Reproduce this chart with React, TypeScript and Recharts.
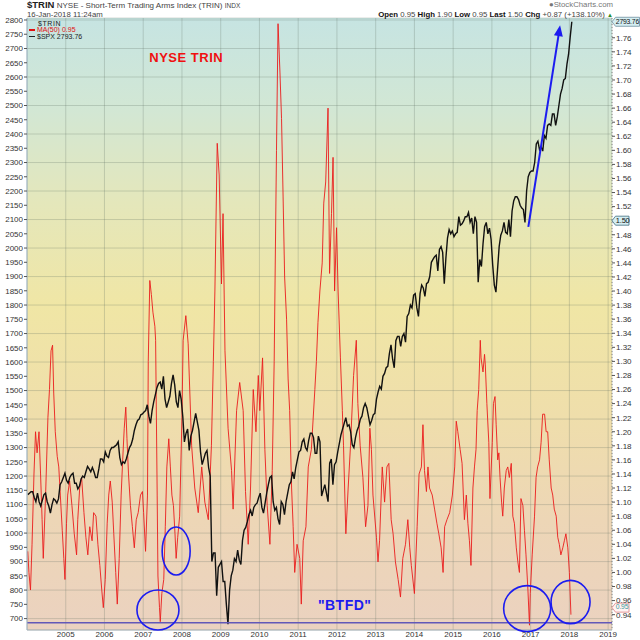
import React from "react";
import {
  LineChart,
  Line,
  XAxis,
  YAxis,
  CartesianGrid,
  ReferenceLine,
  ReferenceDot,
  Legend,
} from "recharts";

const FONT = "'Liberation Sans', Arial, Helvetica, sans-serif";

const firstYear = 2004;
// $SPX, one reading per half month, Jan 2004 .. mid Jan 2018
const spxHalfMonths = [
  1135, 1140, 1145, 1145, 1125, 1110, 1140, 1110, 1095, 1115, 1135, 1140, 1110, 1095, 1070, 1100, 1120, 1115, 1105, 1120, 1170, 1180, 1195, 1210,
  1185, 1175, 1195, 1205, 1210, 1175, 1175, 1155, 1165, 1190, 1200, 1195, 1215, 1234, 1225, 1215, 1230, 1215, 1195, 1195, 1225, 1260, 1260, 1250,
  1285, 1270, 1265, 1290, 1300, 1300, 1305, 1310, 1320, 1265, 1240, 1250, 1245, 1260, 1280, 1300, 1310, 1330, 1360, 1380, 1395, 1400, 1415, 1418,
  1425, 1430, 1450, 1410, 1385, 1430, 1460, 1485, 1510, 1525, 1530, 1505, 1550, 1470, 1440, 1460, 1480, 1525, 1555, 1520, 1460, 1440, 1500, 1470,
  1410, 1320, 1350, 1365, 1290, 1340, 1360, 1390, 1420, 1390, 1360, 1285, 1240, 1260, 1280, 1290, 1230, 1200, 900, 930, 930, 780, 880, 890,
  900, 830, 830, 750, 680, 800, 850, 870, 910, 900, 940, 905, 890, 975, 1010, 1020, 1040, 1065, 1080, 1060, 1090, 1100, 1105, 1125,
  1140, 1090, 1070, 1105, 1140, 1170, 1195, 1200, 1110, 1080, 1090, 1050, 1030, 1110, 1100, 1065, 1110, 1140, 1170, 1180, 1215, 1190, 1230, 1258,
  1285, 1290, 1320, 1330, 1300, 1290, 1325, 1350, 1350, 1335, 1280, 1280, 1340, 1320, 1130, 1150, 1170, 1140, 1110, 1245, 1260, 1170, 1240, 1250,
  1285, 1315, 1345, 1365, 1385, 1405, 1375, 1380, 1355, 1310, 1300, 1335, 1360, 1375, 1400, 1410, 1440, 1455, 1440, 1410, 1380, 1395, 1415, 1420,
  1470, 1495, 1515, 1505, 1550, 1560, 1580, 1585, 1630, 1660, 1610, 1580, 1675, 1690, 1690, 1655, 1690, 1700, 1670, 1760, 1770, 1800, 1790, 1835,
  1840, 1790, 1760, 1840, 1870, 1860, 1830, 1875, 1880, 1900, 1950, 1960, 1970, 1975, 1920, 1995, 2005, 1985, 1875, 1965, 2035, 2065, 2050, 2060,
  2040, 2050, 2055, 2110, 2080, 2085, 2095, 2110, 2110, 2125, 2090, 2105, 2050, 2110, 2090, 1880, 1960, 1935, 2015, 2075, 2090, 2050, 2070, 2030,
  1940, 1870, 1845, 1925, 2005, 2045, 2060, 2090, 2055, 2050, 2100, 2040, 2130, 2165, 2180, 2180, 2170, 2150, 2140, 2135, 2090, 2200, 2250, 2265,
  2270, 2270, 2300, 2365, 2375, 2345, 2355, 2340, 2395, 2385, 2430, 2435, 2430, 2470, 2470, 2430, 2460, 2500, 2540, 2560, 2590, 2595, 2645, 2680,
  2740, 2794,
];
const spxLast = 2793.76;

// $TRIN 50-day moving average: [date as decimal year, value]
const trinMa50: [number, number][] = [
  [2004.02, 1.03], [2004.05, 1.0], [2004.09, 0.975], [2004.13, 1.04], [2004.18, 1.14], [2004.22, 1.2],
  [2004.26, 1.17], [2004.31, 1.2], [2004.35, 1.14], [2004.39, 1.075], [2004.42, 1.02], [2004.48, 1.11],
  [2004.54, 1.22], [2004.58, 1.26], [2004.62, 1.315], [2004.66, 1.323], [2004.69, 1.255], [2004.73, 1.2],
  [2004.78, 1.165], [2004.82, 1.15], [2004.86, 1.11], [2004.91, 1.06], [2004.95, 1.02], [2004.98, 0.99],
  [2005.02, 1.07], [2005.05, 1.11], [2005.1, 1.13], [2005.16, 1.095], [2005.22, 1.055], [2005.28, 1.025],
  [2005.31, 1.075], [2005.36, 1.12], [2005.41, 1.135], [2005.47, 1.085], [2005.52, 1.05], [2005.57, 1.025],
  [2005.62, 1.065], [2005.68, 1.045], [2005.72, 1.085], [2005.78, 1.08], [2005.83, 1.04], [2005.88, 1.01],
  [2005.93, 0.975], [2005.97, 0.95], [2006.02, 0.99], [2006.07, 1.07], [2006.11, 1.11], [2006.15, 1.13],
  [2006.2, 1.1], [2006.24, 1.055], [2006.29, 1.0], [2006.33, 0.955], [2006.38, 1.02], [2006.43, 1.11],
  [2006.47, 1.16], [2006.51, 1.205], [2006.55, 1.235], [2006.58, 1.19], [2006.62, 1.14], [2006.67, 1.095],
  [2006.72, 1.065], [2006.77, 1.035], [2006.82, 1.075], [2006.87, 1.085], [2006.93, 1.11], [2006.98, 1.115],
  [2007.01, 1.085], [2007.06, 1.03], [2007.11, 1.11], [2007.13, 1.3], [2007.17, 1.415], [2007.21, 1.395],
  [2007.25, 1.37], [2007.3, 1.35], [2007.32, 1.33], [2007.36, 1.11], [2007.38, 0.995], [2007.42, 0.95],
  [2007.44, 0.93], [2007.48, 0.97], [2007.53, 0.99], [2007.57, 1.065], [2007.61, 1.15], [2007.66, 1.19],
  [2007.7, 1.15], [2007.74, 1.11], [2007.78, 1.095], [2007.82, 1.055], [2007.85, 1.02], [2007.89, 1.05],
  [2007.94, 1.08], [2008.0, 1.22], [2008.03, 1.33], [2008.1, 1.365], [2008.16, 1.325], [2008.25, 1.18],
  [2008.33, 1.12], [2008.42, 1.085], [2008.51, 1.15], [2008.59, 1.1], [2008.68, 1.075], [2008.76, 1.18],
  [2008.81, 1.3], [2008.85, 1.4], [2008.91, 1.61], [2008.96, 1.565], [2009.02, 1.41], [2009.06, 1.51],
  [2009.11, 1.315], [2009.19, 1.205], [2009.28, 1.145], [2009.32, 1.09], [2009.41, 1.23], [2009.49, 1.27],
  [2009.58, 1.23], [2009.64, 1.115], [2009.71, 1.04], [2009.77, 1.12], [2009.84, 1.26], [2009.91, 1.2],
  [2009.97, 1.28], [2010.01, 1.23], [2010.08, 1.305], [2010.14, 1.175], [2010.2, 1.095], [2010.27, 1.04],
  [2010.33, 1.145], [2010.38, 1.3], [2010.44, 1.6], [2010.48, 1.78], [2010.53, 1.71], [2010.57, 1.645],
  [2010.61, 1.535], [2010.65, 1.42], [2010.7, 1.36], [2010.74, 1.275], [2010.78, 1.23], [2010.83, 1.12],
  [2010.87, 1.065], [2010.91, 1.0], [2010.97, 1.04], [2011.04, 1.02], [2011.08, 0.955], [2011.13, 1.045],
  [2011.2, 1.065], [2011.26, 1.15], [2011.34, 1.175], [2011.43, 1.26], [2011.47, 1.3], [2011.51, 1.355],
  [2011.56, 1.4], [2011.62, 1.44], [2011.66, 1.525], [2011.71, 1.555], [2011.77, 1.66], [2011.81, 1.425],
  [2011.86, 1.51], [2011.9, 1.59], [2011.94, 1.4], [2011.99, 1.49], [2012.03, 1.4], [2012.09, 1.305],
  [2012.14, 1.23], [2012.17, 1.18], [2012.23, 1.055], [2012.29, 1.12], [2012.35, 1.18], [2012.43, 1.28],
  [2012.5, 1.33], [2012.54, 1.24], [2012.6, 1.18], [2012.67, 1.135], [2012.74, 1.065], [2012.8, 1.095],
  [2012.85, 1.205], [2012.89, 1.175], [2012.93, 1.11], [2013.02, 1.05], [2013.06, 1.015], [2013.1, 1.045],
  [2013.17, 1.15], [2013.23, 1.1], [2013.29, 1.15], [2013.34, 1.155], [2013.4, 1.075], [2013.45, 1.055],
  [2013.51, 1.015], [2013.58, 0.99], [2013.64, 0.965], [2013.7, 1.02], [2013.77, 1.04], [2013.83, 1.075],
  [2013.88, 1.035], [2013.92, 1.01], [2014.0, 0.97], [2014.07, 1.065], [2014.12, 1.14], [2014.18, 1.15],
  [2014.22, 1.21], [2014.26, 1.145], [2014.31, 1.115], [2014.35, 1.15], [2014.39, 1.12], [2014.46, 1.11],
  [2014.52, 1.09], [2014.58, 1.07], [2014.63, 1.055], [2014.69, 1.035], [2014.74, 1.0], [2014.78, 1.065],
  [2014.84, 1.075], [2014.91, 1.085], [2014.98, 1.11], [2015.04, 1.15], [2015.08, 1.215], [2015.12, 1.2],
  [2015.18, 1.175], [2015.23, 1.155], [2015.29, 1.075], [2015.34, 1.11], [2015.38, 1.07], [2015.42, 1.045],
  [2015.46, 1.01], [2015.51, 1.12], [2015.55, 1.15], [2015.59, 1.175], [2015.62, 1.23], [2015.66, 1.26],
  [2015.7, 1.33], [2015.72, 1.305], [2015.77, 1.285], [2015.81, 1.31], [2015.83, 1.295], [2015.87, 1.24],
  [2015.92, 1.185], [2015.95, 1.105], [2016.01, 1.185], [2016.04, 1.24], [2016.08, 1.25], [2016.11, 1.21],
  [2016.15, 1.16], [2016.18, 1.17], [2016.21, 1.135], [2016.25, 1.1], [2016.28, 1.08], [2016.32, 1.12],
  [2016.37, 1.145], [2016.41, 1.15], [2016.45, 1.135], [2016.5, 1.155], [2016.54, 1.08], [2016.58, 1.07],
  [2016.63, 1.035], [2016.67, 1.015], [2016.71, 1.0], [2016.75, 1.105], [2016.8, 1.095], [2016.84, 1.06],
  [2016.88, 1.025], [2016.93, 0.975], [2016.97, 0.925], [2016.99, 0.97], [2017.04, 1.025], [2017.1, 1.08],
  [2017.14, 1.135], [2017.18, 1.15], [2017.23, 1.16], [2017.27, 1.185], [2017.31, 1.225], [2017.36, 1.225],
  [2017.4, 1.2], [2017.44, 1.2], [2017.48, 1.16], [2017.53, 1.12], [2017.57, 1.11], [2017.61, 1.09],
  [2017.66, 1.08], [2017.7, 1.05], [2017.74, 1.04], [2017.78, 1.025], [2017.83, 1.035], [2017.87, 1.045],
  [2017.91, 1.055], [2017.96, 1.035], [2018.0, 1.0], [2018.04, 0.94],
];
const maLast = 0.95;
const trinLast = 1.5;

const yearTicks = [2005, 2006, 2007, 2008, 2009, 2010, 2011, 2012, 2013, 2014, 2015, 2016, 2017, 2018, 2019];
const gridTicks = yearTicks.flatMap((y) => [y - 0.5, y]);
const spxTicks = Array.from({ length: 43 }, (_, i) => 700 + i * 50);
const trinTicks = Array.from({ length: 42 }, (_, i) => +(0.94 + i * 0.02).toFixed(2));

const spxData = spxHalfMonths.map((v, i) => ({ t: firstYear + (i + 0.5) / 24, v }));
const trinData = trinMa50.map(([t, v]) => ({ t, v }));

const BLUE = "#1c1cf0";

const ellipse = (rx: number, ry: number) => (p: any) => (
  <ellipse cx={p.cx} cy={p.cy} rx={rx} ry={ry} fill="none" stroke={BLUE} strokeWidth={1.6} />
);

const note = (text: string, color: string, size: number) => (p: any) => (
  <text x={p.cx} y={p.cy} textAnchor="middle" dominantBaseline="central" fontFamily={FONT}
    fontWeight="bold" fontSize={size} fill={color} letterSpacing={0.5}>
    {text}
  </text>
);

const arrowHead = (p: any) => (
  <polygon points="0,0 -4.5,11 4.5,11" fill={BLUE} transform={`translate(${p.cx},${p.cy}) rotate(9)`} />
);

const priceTag = (label: string, fill: string, stroke: string, color: string, w: number, size: number, lift = 0) => (p: any) => (
  <g>
    <polygon
      points={`${p.cx},${p.cy} ${p.cx + 3.5},${p.cy - 4.5} ${p.cx + w},${p.cy - 4.5} ${p.cx + w},${p.cy + 4.5} ${p.cx + 3.5},${p.cy + 4.5}`}
      fill={fill} stroke={stroke} strokeWidth={0.8}
    />
    <text x={p.cx + 3.8} y={p.cy + 2.4 - lift} fontSize={size} fontFamily={FONT} fill={color} letterSpacing={-0.2}>{label}</text>
  </g>
);

const legendDash = (color: string) => (
  <span style={{ display: "inline-block", width: 6, height: 1.5, background: color, verticalAlign: "middle", marginRight: 2 }} />
);

export default function App() {
  const tick = { fontSize: 8, fill: "#333", fontFamily: FONT };
  return (
    <div style={{ position: "absolute", left: 0, top: 0, width: 640, height: 640, background: "#fff", fontFamily: FONT, fontSize: 8 }}>
      <LineChart width={640} height={640} margin={{ top: 18, right: 0, bottom: 0, left: 0 }}>
        <defs>
          <linearGradient id="bgGrad" x1="0" y1="0" x2="0" y2="1">
            <stop offset="0%" stopColor="#c6e4e2" />
            <stop offset="15%" stopColor="#d2e7d4" />
            <stop offset="30%" stopColor="#e4e7bb" />
            <stop offset="47%" stopColor="#f0e6a5" />
            <stop offset="65%" stopColor="#efdeab" />
            <stop offset="82%" stopColor="#edd6b6" />
            <stop offset="100%" stopColor="#ebd2c0" />
          </linearGradient>
        </defs>
        <CartesianGrid yAxisId="left" fill="url(#bgGrad)" fillOpacity={1} stroke="#5e6f64" strokeOpacity={0.32} strokeWidth={0.8} />
        <XAxis
          dataKey="t" type="number" domain={[2004, 2019.1]} ticks={gridTicks} allowDataOverflow
          tickFormatter={(v: number) => (Number.isInteger(v) ? String(v) : "")}
          height={10} tickLine={false} tickSize={0} tickMargin={1} axisLine={{ stroke: "#a8b4bc" }} tick={tick}
        />
        <YAxis
          yAxisId="left" domain={[660, 2807]} ticks={spxTicks} allowDataOverflow width={27}
          tick={tick} tickSize={3} tickMargin={1} tickLine={{ stroke: "#555" }} axisLine={{ stroke: "#9db4c6" }}
        />
        <YAxis
          yAxisId="right" orientation="right" domain={[0.9182, 1.7881]} ticks={trinTicks} allowDataOverflow width={28}
          tickFormatter={(v: number) => (v === trinLast ? "" : v.toFixed(2))}
          tick={tick} tickSize={3} tickMargin={1} tickLine={{ stroke: "#555" }} axisLine={{ stroke: "#888", strokeDasharray: "1 2" }}
        />
        <Legend
          layout="vertical" align="center" verticalAlign="middle"
          wrapperStyle={{ top: 20.5, left: 29, width: "auto", height: "auto" }}
          content={() => (
            <div style={{ fontFamily: FONT, fontSize: 7, lineHeight: "6.5px", color: "#222", whiteSpace: "nowrap" }}>
              <div style={{ paddingLeft: 9, letterSpacing: 0.6 }}>$TRIN</div>
              <div style={{ color: "#e01010" }}>{legendDash("#e01010")}MA(50) {maLast.toFixed(2)}</div>
              <div>{legendDash("#222")}$SPX {spxLast.toFixed(2)}</div>
            </div>
          )}
        />
        <Line data={trinData} dataKey="v" name="MA(50)" yAxisId="right" type="linear" stroke="#ea1c1c"
          strokeWidth={0.9} dot={false} isAnimationActive={false} />
        <Line data={spxData} dataKey="v" name="$SPX" yAxisId="left" type="linear" stroke="#111"
          strokeWidth={1.4} dot={false} isAnimationActive={false} />
        <ReferenceLine yAxisId="left" y={685} stroke="#6258b8" strokeWidth={1.5} />
        <ReferenceLine yAxisId="left" segment={[{ x: 2016.94, y: 2074 }, { x: 2017.73, y: 2755 }]} stroke={BLUE} strokeWidth={2} />
        <ReferenceDot yAxisId="left" x={2017.76} y={2782} shape={arrowHead} ifOverflow="visible" />
        <ReferenceDot yAxisId="left" x={2007.85} y={937} shape={ellipse(14, 24)} ifOverflow="visible" />
        <ReferenceDot yAxisId="left" x={2007.38} y={730} shape={ellipse(21, 20)} ifOverflow="visible" />
        <ReferenceDot yAxisId="left" x={2016.91} y={735} shape={ellipse(23.5, 23)} ifOverflow="visible" />
        <ReferenceDot yAxisId="left" x={2018.03} y={758} shape={ellipse(19.5, 21.7)} ifOverflow="visible" />
        <ReferenceDot yAxisId="left" x={2008.11} y={2670} shape={note("NYSE TRIN", "#f01010", 13)} ifOverflow="visible" />
        <ReferenceDot yAxisId="left" x={2012.2} y={748} shape={note("\"BTFD\"", BLUE, 14)} ifOverflow="visible" />
        <ReferenceDot yAxisId="left" x={2019.1} y={spxLast} ifOverflow="visible"
          shape={priceTag(spxLast.toFixed(2), "#d5eef2", "#6d8fa0", "#111", 27.5, 6.8)} />
        <ReferenceDot yAxisId="right" x={2019.1} y={trinLast} ifOverflow="visible"
          shape={priceTag(trinLast.toFixed(2), "#d5eef2", "#3d6d80", "#111", 17, 7.5)} />
        <ReferenceDot yAxisId="right" x={2019.1} y={maLast} ifOverflow="visible"
          shape={priceTag(maLast.toFixed(2), "#fff4f4", "#e08080", "#3a9a9a", 17, 6.8, 0.8)} />
      </LineChart>

      <div style={{ position: "absolute", left: 27, top: -0.5, whiteSpace: "nowrap", fontSize: 9.5, lineHeight: "10px", height: 10, color: "#222" }}>
        <span style={{ fontWeight: "bold" }}>$TRIN</span>
        <span style={{ fontSize: 8, color: "#444" }}> NYSE - Short-Term Trading Arms Index (TRIN) </span>
        <span style={{ fontSize: 6.5, color: "#444" }}>INDX</span>
      </div>
      <div style={{ position: "absolute", left: 27, top: 11, fontSize: 7.8, lineHeight: "8px", color: "#444", whiteSpace: "nowrap" }}>
        16-Jan-2018 11:24am
      </div>
      <div style={{ position: "absolute", right: 27, top: 1, fontSize: 7.8, lineHeight: "8px", color: "#777", whiteSpace: "nowrap" }}>
        &#9679;StockCharts.com
      </div>
      <div style={{ position: "absolute", right: 27, top: 11, fontSize: 7.8, lineHeight: "8px", color: "#444", whiteSpace: "nowrap" }}>
        <b style={{ color: "#111" }}>Open</b> 0.95 <b style={{ color: "#111" }}>High</b> 1.90{" "}
        <b style={{ color: "#111" }}>Low</b> 0.95 <b style={{ color: "#111" }}>Last</b> 1.50{" "}
        <b style={{ color: "#111" }}>Chg</b> +0.87 (+138.10%) <span style={{ color: "#2a8a2a", fontSize: 6 }}>&#9650;</span>
      </div>
    </div>
  );
}
